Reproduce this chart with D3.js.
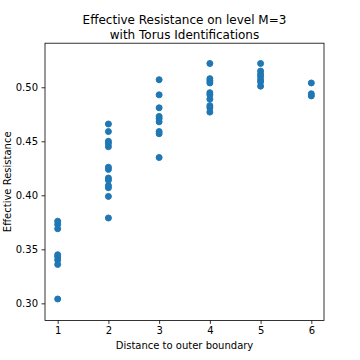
<!DOCTYPE html>
<html>
<head>
<meta charset="utf-8">
<script src="https://cdn.jsdelivr.net/npm/d3@7"></script>
<style>
  body { margin: 0; background: #fff; }
  svg { display: block; font-family: "DejaVu Sans", sans-serif; }
</style>
</head>
<body>
<svg id="chart"></svg>
<script>
// Data: effective resistance per distance to outer boundary
const distances = [1, 2, 3, 4, 5, 6];
const resistanceD1 = [0.304, 0.336, 0.340, 0.343, 0.345, 0.369, 0.373, 0.376];
const resistanceD2 = [0.379, 0.399, 0.407, 0.409, 0.414, 0.416, 0.424, 0.426, 0.445, 0.448, 0.450, 0.459, 0.466];
const resistanceD3 = [0.435, 0.457, 0.459, 0.468, 0.471, 0.473, 0.481, 0.493, 0.507];
const resistanceD4 = [0.477, 0.481, 0.483, 0.489, 0.493, 0.495, 0.504, 0.506, 0.508, 0.522];
const resistanceD5 = [0.501, 0.505, 0.507, 0.510, 0.512, 0.515, 0.522];
const resistanceD6 = [0.492, 0.494, 0.504];
const yTicks = [0.30, 0.35, 0.40, 0.45, 0.50];

const resistanceByDistance = [resistanceD1, resistanceD2, resistanceD3, resistanceD4, resistanceD5, resistanceD6];

// flatten into points
const points = [];
distances.forEach((d, i) => {
    resistanceByDistance[i].forEach(r => points.push({ distance: d, resistance: r }));
});

const width = 360, height = 360;
const margin = { top: 43.2, right: 36, bottom: 39.6, left: 45 };

const svg = d3.select("#chart")
    .attr("width", width)
    .attr("height", height);

// x domain padded like matplotlib's 5% margin
const xScale = d3.scaleLinear()
    .domain([0.75, 6.25])
    .range([margin.left, width - margin.right]);

const yScale = d3.scaleLinear()
    .domain([0.2842, 0.5408])
    .range([height - margin.bottom, margin.top]);

// x axis
const xAxis = svg.append("g")
    .attr("transform", `translate(0, ${height - margin.bottom})`)
    .call(d3.axisBottom(xScale).tickValues(distances).tickFormat(d3.format("d"))
        .tickSize(3.5).tickSizeOuter(0).tickPadding(3.5));

// y axis
const yAxis = svg.append("g")
    .attr("transform", `translate(${margin.left}, 0)`)
    .call(d3.axisLeft(yScale).tickValues(yTicks).tickFormat(d3.format(".2f"))
        .tickSize(3.5).tickSizeOuter(0).tickPadding(3.5));

[xAxis, yAxis].forEach(g => {
    g.select(".domain").remove();
    g.selectAll(".tick line").attr("stroke", "#000").attr("stroke-width", 0.8);
    g.selectAll(".tick text")
        .attr("fill", "#000")
        .style("font-size", "10px")
        .style("font-family", "DejaVu Sans, sans-serif");
});

// points
svg.append("g")
    .selectAll("circle")
    .data(points)
    .enter()
    .append("circle")
    .attr("cx", d => xScale(d.distance))
    .attr("cy", d => yScale(d.resistance))
    .attr("r", 3)
    .attr("fill", "#1f77b4")
    .attr("stroke", "#1f77b4")
    .attr("stroke-width", 1);

// spines
svg.append("rect")
    .attr("x", margin.left)
    .attr("y", margin.top)
    .attr("width", width - margin.left - margin.right)
    .attr("height", height - margin.top - margin.bottom)
    .attr("fill", "none")
    .attr("stroke", "#000")
    .attr("stroke-width", 0.8);

// title
const title = svg.append("text")
    .attr("text-anchor", "middle")
    .style("font-size", "12px")
    .attr("fill", "#000");
title.append("tspan")
    .attr("x", (margin.left + width - margin.right) / 2)
    .attr("y", 24.3)
    .text("Effective Resistance on level M=3");
title.append("tspan")
    .attr("x", (margin.left + width - margin.right) / 2)
    .attr("y", 38.6)
    .text("with Torus Identifications");

// axis labels
svg.append("text")
    .attr("x", (margin.left + width - margin.right) / 2)
    .attr("y", 349)
    .attr("text-anchor", "middle")
    .style("font-size", "10px")
    .attr("fill", "#000")
    .text("Distance to outer boundary");

svg.append("text")
    .attr("transform", `translate(11, ${(margin.top + height - margin.bottom) / 2}) rotate(-90)`)
    .attr("text-anchor", "middle")
    .style("font-size", "10px")
    .attr("fill", "#000")
    .text("Effective Resistance");
</script>
</body>
</html>
